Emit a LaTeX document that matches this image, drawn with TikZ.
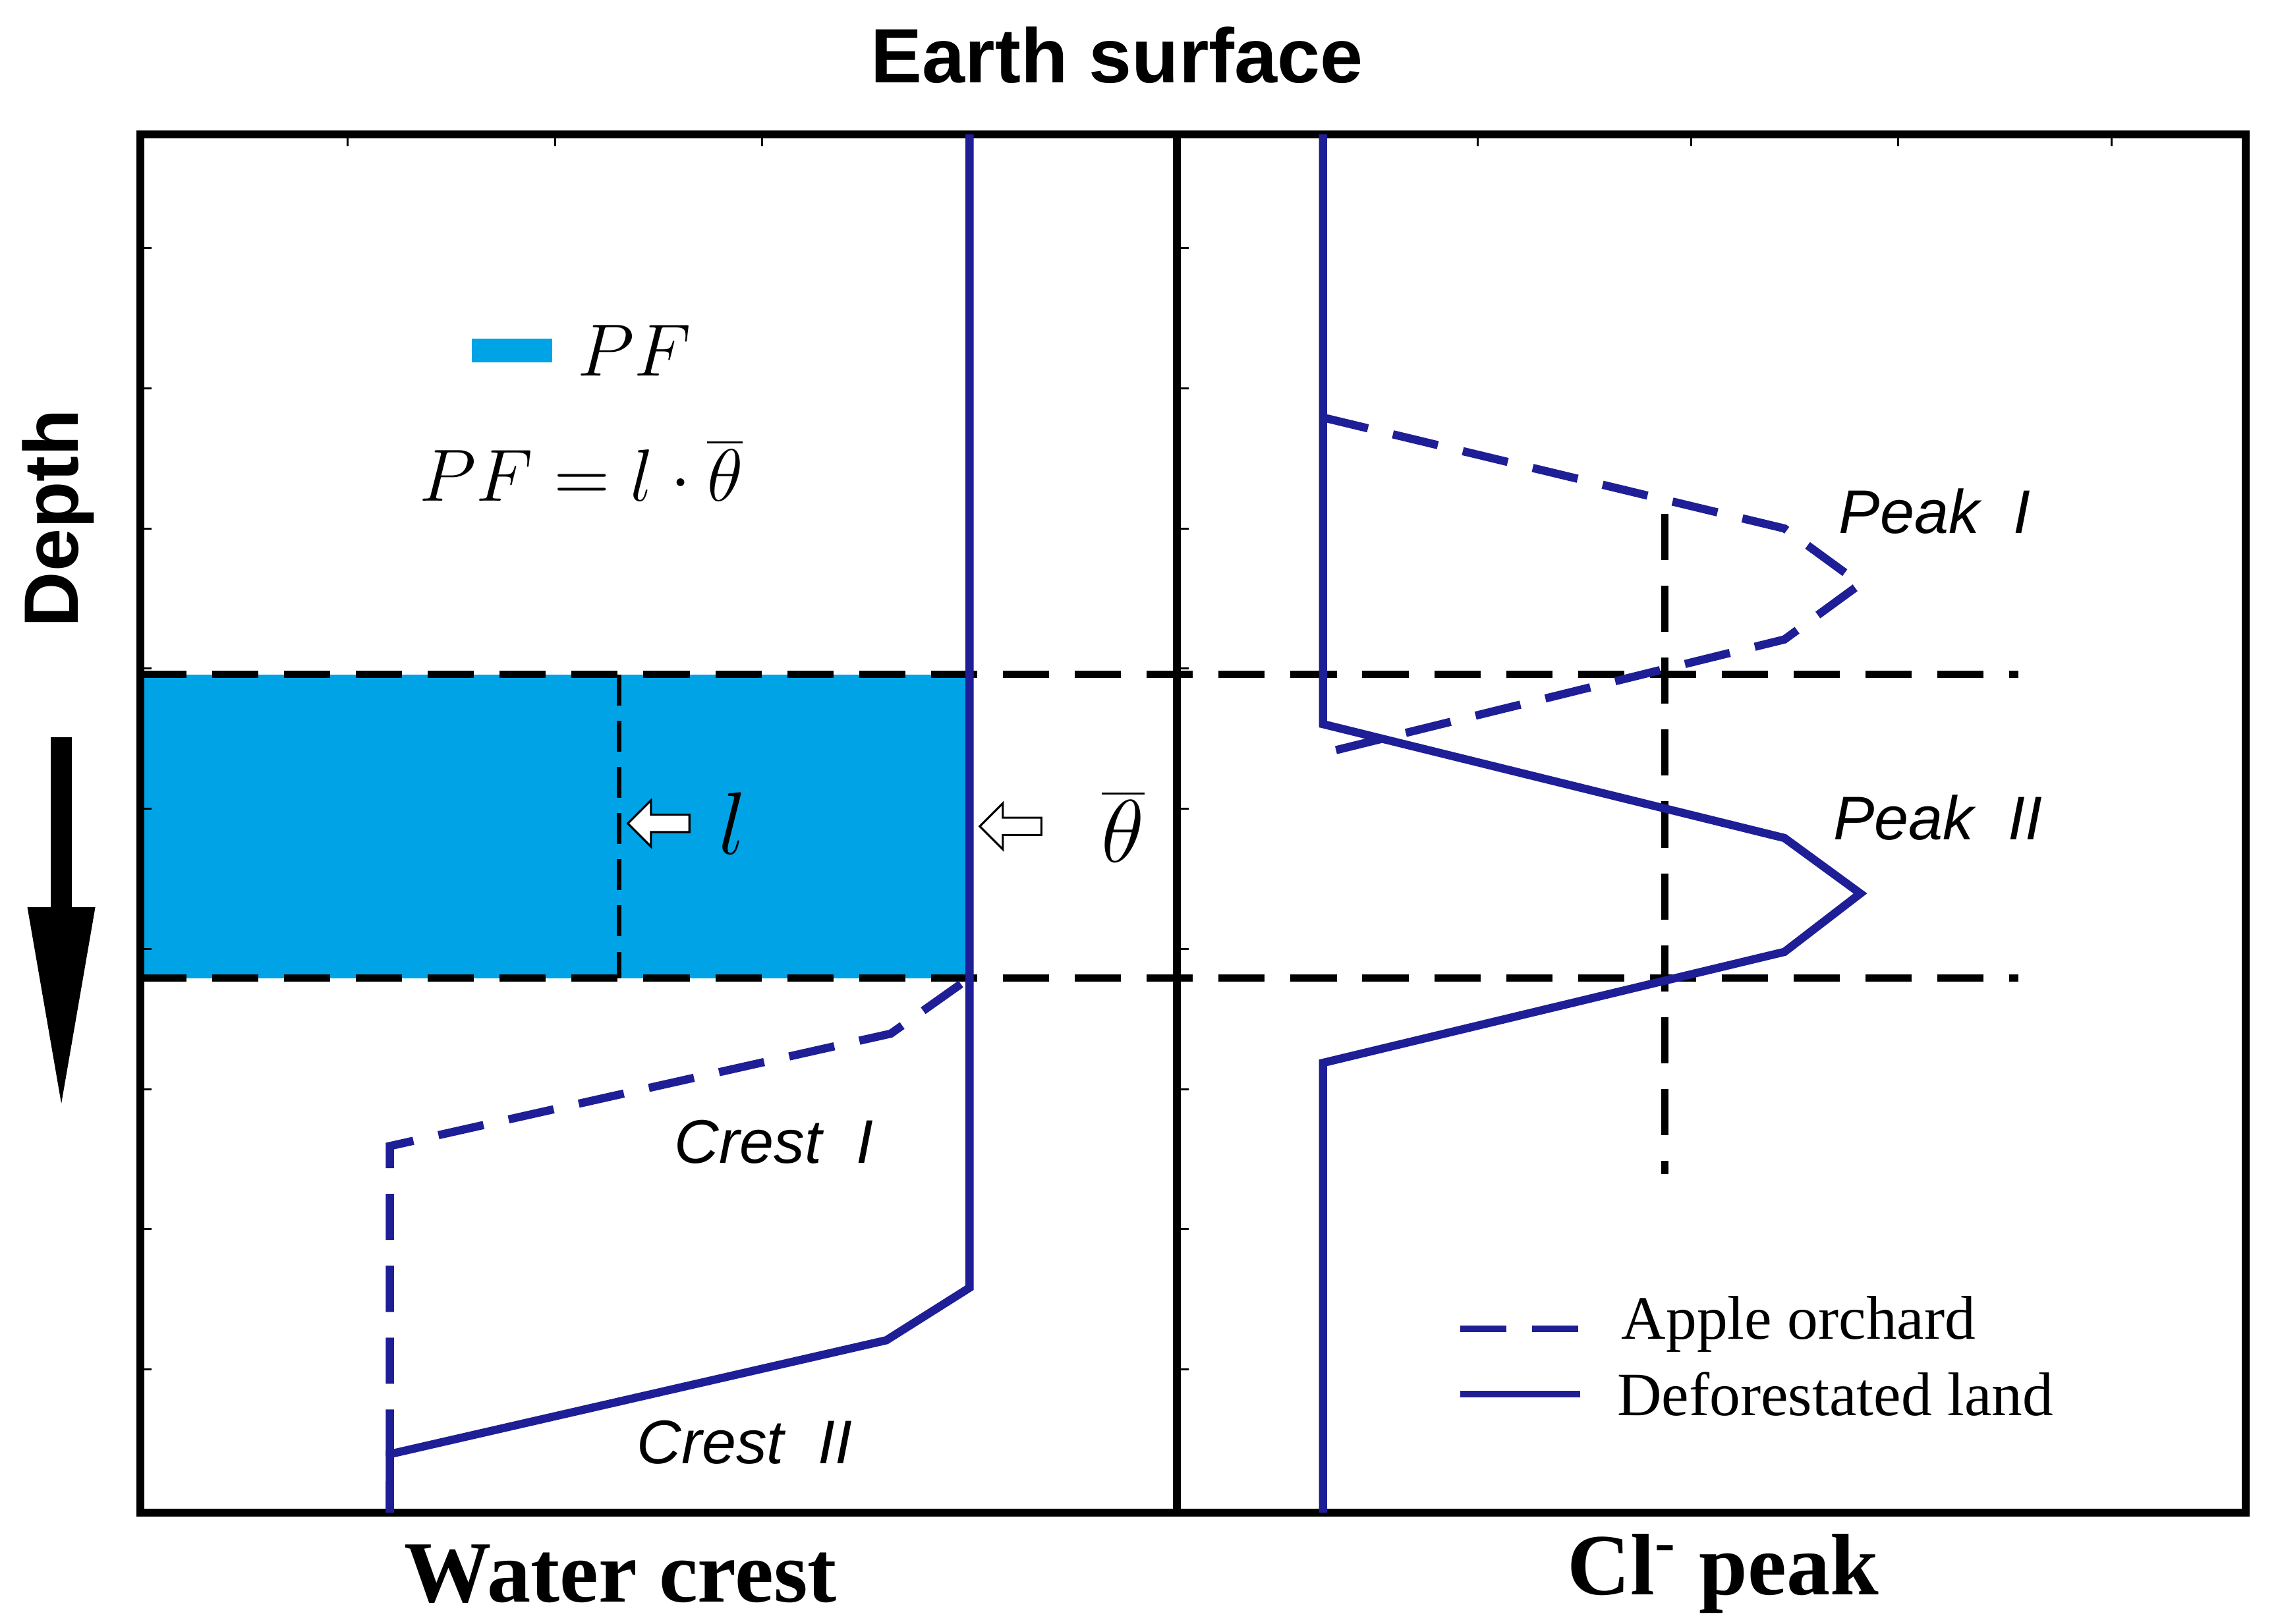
\documentclass[tikz,border=0pt]{standalone}
\usepackage{fontspec}
\setmainfont{Liberation Serif}
\newfontfamily\sansf{Liberation Sans}
\usetikzlibrary{positioning,shapes.arrows,arrows.meta}
\definecolor{navy}{RGB}{30,30,150}
\definecolor{pfblue}{RGB}{0,164,230}
\tikzset{
  curve/.style={navy,line width=1.6pt},
  dcurve/.style={navy,line width=1.6pt,dash pattern=on 9pt off 5pt},
  guide/.style={black,line width=1.4pt,dash pattern=on 9pt off 5pt},
  tag/.style={font=\sansf\itshape\fontsize{12}{14}\selectfont},
  hollow/.style={single arrow,draw,thin,fill=white,shape border rotate=180,
    minimum height=12pt,minimum width=9pt,single arrow head extend=2pt,inner sep=1pt}
}
\begin{document}
\begin{tikzpicture}[x=0.01cm,y=-0.01cm,yshift=11.12cm]
      \useasboundingbox (0,0) rectangle (1560,1112);
      % blue layer
      \fill[pfblue] (96,462) rectangle (664,670);
      % frames
      \draw[line width=1.5pt] (96,92) rectangle (806,1036);
      \draw[line width=1.5pt] (806,92) rectangle (1538,1036);
      \foreach \y in {170,266,362,458,554,650,746,842,938}
        {\draw (96,\y) -- (104,\y); \draw (806,\y) -- (814,\y);}
      \foreach \x in {238,380,522,664} \draw (\x,92) -- (\x,100);
      \foreach \x in {1012,1158,1300,1446} \draw (\x,92) -- (\x,100);
      % horizontal guides
      \draw[guide] (96,462) -- (1382,462);
      \draw[guide] (96,670) -- (1382,670);
      \draw[black,thick,dash pattern=on 6pt off 3pt] (424,462) -- (424,670);
      \draw[guide] (1140,352) -- (1140,804);
      % water crests
      \draw[curve] (664,92) -- (664,882) -- (607,918) -- (267,996) -- (267,1036);
      \draw[dcurve] (658,674) -- (610,708) -- (267,785) -- (267,1036);
      % Cl peaks
      \draw[curve] (906,92) -- (906,496) -- (1222,574) -- (1274,612) -- (1222,652) -- (906,728) -- (906,1036);
      \draw[dcurve] (906,286) -- (1222,362) -- (1274,400) -- (1222,438) -- (906,516);
      \draw[white,line width=1.8pt,dash pattern=on 0pt off 9pt on 5pt off 0pt] (906,516) -- (906,720);
      % labels
      \node[tag] (p1) at (1325,350) {Peak \ I};
      \node[tag] (p2) at (1327,560) {Peak \ II};
      \node[tag] (c1) at (530,782) {Crest \ I};
      \node[tag] (c2) at (510,988) {Crest \ II};
      % legend
      \coordinate (la) at (1000,910); \coordinate (lb) at (1082,910);
      \coordinate (lc) at (1000,955); \coordinate (ld) at (1082,955);
      \draw[dcurve,line width=1.3pt] (la) -- (lb);
      \draw[curve,line width=1.3pt] (lc) -- (ld);
      \node[anchor=west,font=\fontsize{12}{14}\selectfont] (ao) at (1098,907) {Apple orchard};
      \node[anchor=west,font=\fontsize{12}{14}\selectfont] (dl) at (1095,955) {Deforestated land};
      % PF key and formula
      \fill[pfblue] (323,232) rectangle (378,248);
      \node[font=\fontsize{15}{17}\selectfont,anchor=west] (pf) at (383,240) {$PF$};
      \node[font=\fontsize{15}{17}\selectfont] (eq) at (398,322) {$PF = l\cdot\overline{\theta}$};
      % hollow arrows
      \node[hollow] (ha) at (454,564) {};
      \node[font=\fontsize{17}{19}\selectfont,right=2pt of ha] (ll) {$l$};
      \node[hollow] (hb) at (695,566) {};
      \node[font=\fontsize{17}{19}\selectfont,right=8pt of hb] (th) {$\overline{\theta}$};
      % axes titles
      \node[font=\sansf\bfseries\fontsize{15}{17}\selectfont] (es) at (765,38) {Earth surface};
      \node[font=\sansf\bfseries\fontsize{15}{17}\selectfont,rotate=90] (dp) at (40,355) {Depth};
      \coordinate (da) at (42,505); \coordinate (db) at (42,762);
      \draw[line width=4pt,-{Triangle[length=40pt,width=12pt]}] (da) -- (db);
      \node[font=\bfseries\fontsize{17}{19}\selectfont] (wc) at (425,1078) {Water crest};
      \node[font=\bfseries\fontsize{17}{19}\selectfont] (cl) at (1180,1078) {Cl\textsuperscript{-} peak};
\end{tikzpicture}
\end{document}
